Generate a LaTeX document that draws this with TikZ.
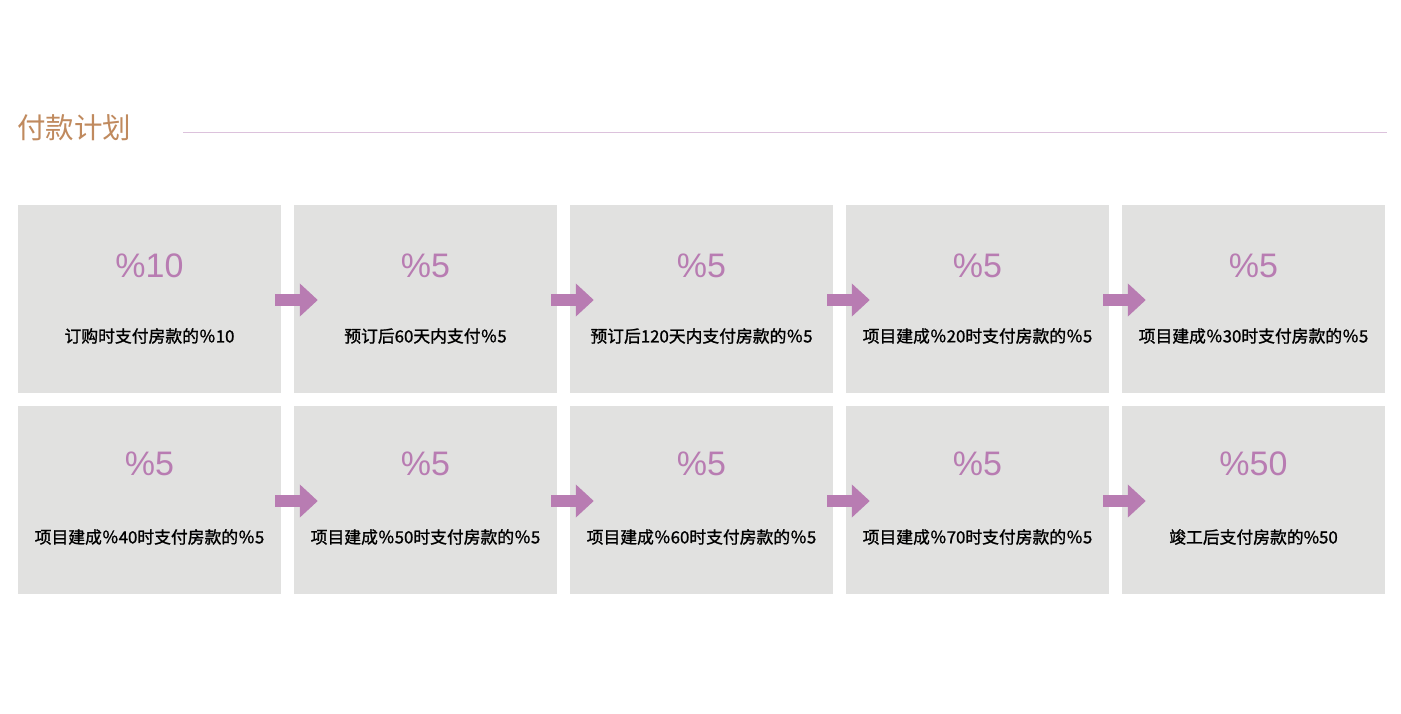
\documentclass[tikz,border=0pt]{standalone}
\usepackage{fontspec}
\setmainfont{Liberation Sans}
\newfontfamily\cjk{Noto Sans CJK SC}
\newfontfamily\cjkbold[FakeBold=1.2]{Noto Sans CJK SC}
\usetikzlibrary{arrows.meta}
\definecolor{boxgray}{HTML}{E1E1E0}
\definecolor{plum}{HTML}{B87CB2}
\definecolor{titlebrown}{HTML}{C08A5E}
\definecolor{rulepink}{HTML}{DCC2DC}
\tikzset{
  stepbox/.style={fill=boxgray, draw=none, minimum width=263pt, minimum height=188pt, inner sep=0pt},
  biglabel/.style={text=plum, font=\fontsize{34}{40}\selectfont, inner sep=0pt},
  smalllabel/.style={text=black, font=\cjkbold\fontsize{16.8}{20}\selectfont, inner sep=0pt},
  flow/.style={draw=plum, line width=12pt, -{Triangle[length=18pt,width=32pt]}},
}
\begin{document}
\begin{tikzpicture}[x=1pt,y=-1pt]
\useasboundingbox (0,0) rectangle (1401,713);
\fill[white] (0,0) rectangle (1401,713);
% title
\node[anchor=west, text=titlebrown, font=\cjk\fontsize{28.5}{32}\selectfont, inner sep=0pt] (title) at (17,128) {付款计划};
\coordinate (r1) at (183,132.5);
\coordinate (r2) at (1387,132.5);
\draw[rulepink, line width=1.2pt] (r1) -- (r2);
% boxes
\foreach \k/\r/\c/\up/\big/\small in {
  1/0/0/33/{\%10}/{订购时支付房款的％10},
  2/0/1/33/{\%5}/{预订后60天内支付％5},
  3/0/2/33/{\%5}/{预订后120天内支付房款的％5},
  4/0/3/33/{\%5}/{项目建成％20时支付房款的％5},
  5/0/4/33/{\%5}/{项目建成％30时支付房款的％5},
  6/1/0/36/{\%5}/{项目建成％40时支付房款的％5},
  7/1/1/36/{\%5}/{项目建成％50时支付房款的％5},
  8/1/2/36/{\%5}/{项目建成％60时支付房款的％5},
  9/1/3/36/{\%5}/{项目建成％70时支付房款的％5},
  10/1/4/36/{\%50}/{竣工后支付房款的\%50}} {
  \node[stepbox] (b\k) at ({149.5+276*\c},{299+201*\r}) {};
  \node[biglabel] (big\k) at ([yshift=\up pt]b\k.center) {\big};
  \node[smalllabel] (small\k) at ([yshift=-37pt]b\k.center) {\small};
}
% arrows
\foreach \a/\b in {1/2,2/3,3/4,4/5,6/7,7/8,8/9,9/10} {
  \draw[flow] ([xshift=-6pt,yshift=-1pt]b\a.east) -- ([xshift=24pt,yshift=-1pt]b\b.west);
}
\end{tikzpicture}
\end{document}
